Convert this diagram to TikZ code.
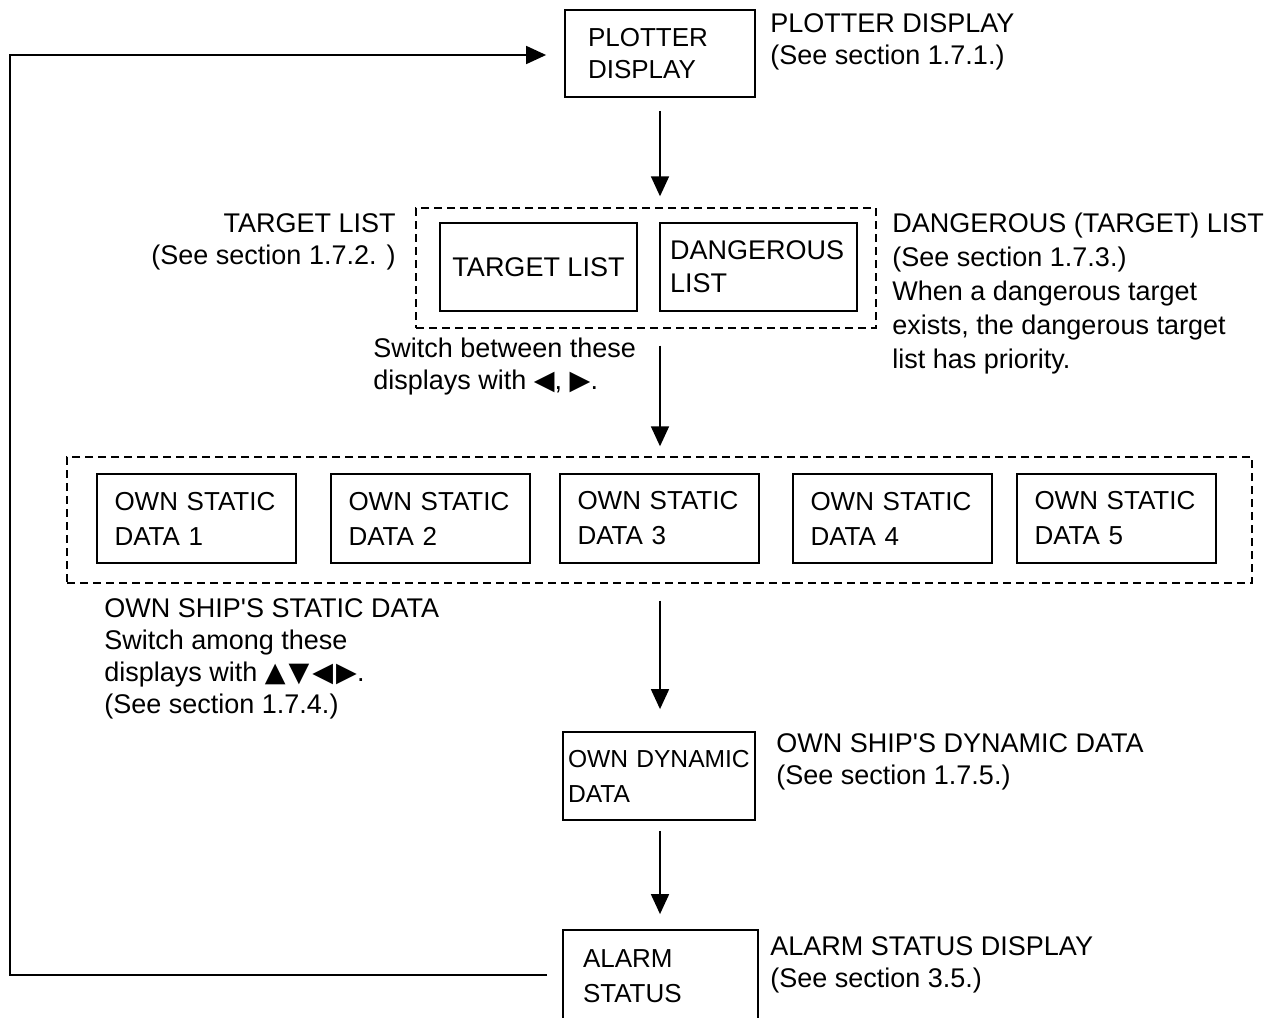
\documentclass[tikz,border=0pt]{standalone}
\usepackage{fontspec}
\setmainfont{Liberation Sans}
\newfontfamily\symfont{DejaVu Sans}
\usetikzlibrary{arrows.meta,positioning}

\tikzset{
	disp/.style={draw, line width=0.9pt, align=left, inner ysep=0pt, font=\fontsize{13}{17.5}\selectfont},
	grp/.style={draw, dash pattern=on 4pt off 2.5pt, line width=0.7pt, inner sep=0pt},
	note/.style={inner sep=0pt, align=left, font=\fontsize{13.5}{16}\selectfont},
	flow/.style={line width=0.9pt, -{Triangle[length=10pt,width=9pt]}}
}

\begin{document}
\begin{tikzpicture}[x=0.5pt,y=-0.5pt]
		
		\useasboundingbox (0,0) rectangle (1284,1017);
		
		\node[grp, minimum width=230pt, minimum height=60pt] (grp1) at (646,268) {};
		
		\node[grp, minimum width=592.5pt, minimum height=63pt] (grp2) at (659.5,520) {};
		
		\node[disp, text width=72pt, inner xsep=11.5pt, minimum height=43.5pt, font=\fontsize{13}{16}\selectfont] (plot) at (660,53.5) {PLOTTER\\DISPLAY};
		
		\node[disp, align=center, minimum width=98.5pt, minimum height=44pt, font=\fontsize{13.5}{16}\selectfont] (tlist) at (538.5,267) {TARGET LIST};
		
		\node[disp, text width=88.5pt, inner xsep=5pt, minimum height=44pt, font=\fontsize{13.5}{16.5}\selectfont] (dlist) at (758.5,267) {DANGEROUS\\LIST};
		
		\node[disp, text width=82pt, inner xsep=8.75pt, minimum height=44.5pt] (stat1) at (196.5,518.5) {OWN STATIC\\DATA 1};
		
		\node[disp, text width=82pt, inner xsep=8.75pt, minimum height=44.5pt] (stat2) at (430.5,518.5) {OWN STATIC\\DATA 2};
		
		\node[disp, text width=82pt, inner xsep=8.75pt, minimum height=44.5pt] (stat3) at (659.5,518.5) {OWN STATIC\\DATA 3};
		
		\node[disp, text width=82pt, inner xsep=8.75pt, minimum height=44.5pt] (stat4) at (892.5,518.5) {OWN STATIC\\DATA 4};
		
		\node[disp, text width=82pt, inner xsep=8.75pt, minimum height=44.5pt] (stat5) at (1116.5,518.5) {OWN STATIC\\DATA 5};
		
		\node[disp, text width=91pt, inner xsep=2.5pt, minimum height=44pt, font=\fontsize{12.3}{17.5}\selectfont] (dyn) at (659,776) {OWN DYNAMIC\\DATA};
		
		\node[disp, text width=77.5pt, inner xsep=10pt, minimum height=46.5pt] (alarm) at (660.5,976.5) {ALARM\\STATUS};
		
		% side notes
		\node[note, anchor=north west] (plotnote) at (770,13) {PLOTTER DISPLAY\\(See section 1.7.1.)};
		
		\node[note, anchor=north east, align=right] (tlnote) at (396,213) {TARGET LIST\\(See section 1.7.2. )};
		
		\node[note, anchor=north west, font=\fontsize{13.5}{17}\selectfont] (dlnote) at (892,213) {DANGEROUS (TARGET) LIST\\(See section 1.7.3.)\\When a dangerous target\\exists, the dangerous target\\list has priority.};
		
		\node[note, anchor=north west] (swnote) at (373,338) {Switch between these\\displays with {\symfont ◀}, {\symfont ▶}.};
		
		\node[note, anchor=north west] (statnote) at (104,598) {OWN SHIP\textquotesingle S STATIC DATA\\Switch among these\\displays with {\symfont ▲\kern1.5pt▼\kern1.5pt◀\kern1.5pt▶}.\\(See section 1.7.4.)};
		
		\node[note, anchor=north west] (dynnote) at (776,733) {OWN SHIP\textquotesingle S DYNAMIC DATA\\(See section 1.7.5.)};
		
		\node[note, anchor=north west] (alarmnote) at (770,936) {ALARM STATUS DISPLAY\\(See section 3.5.)};
		
		\coordinate (lpbot) at (10,975);
		\coordinate (lptop) at (10,55);
		
		\draw[flow, shorten <=6.5pt, shorten >=5.5pt] (plot.south) -- (plot.south |- grp1.north);
		\draw[flow, shorten <=8.5pt, shorten >=5pt] (grp1.south -| plot.south) -- (grp2.north -| plot.south);
		\draw[flow, shorten <=8.5pt, shorten >=11pt] (grp2.south -| plot.south) -- (dyn.north -| plot.south);
		\draw[flow, shorten <=5pt, shorten >=7.5pt] (dyn.south -| plot.south) -- (alarm.north -| plot.south);
		\draw[flow, shorten <=7.5pt, shorten >=9pt] (alarm.west |- lpbot) -- (lpbot) -- (lptop) -- (plot.west |- lptop);
		
	\end{tikzpicture}
\end{document}
